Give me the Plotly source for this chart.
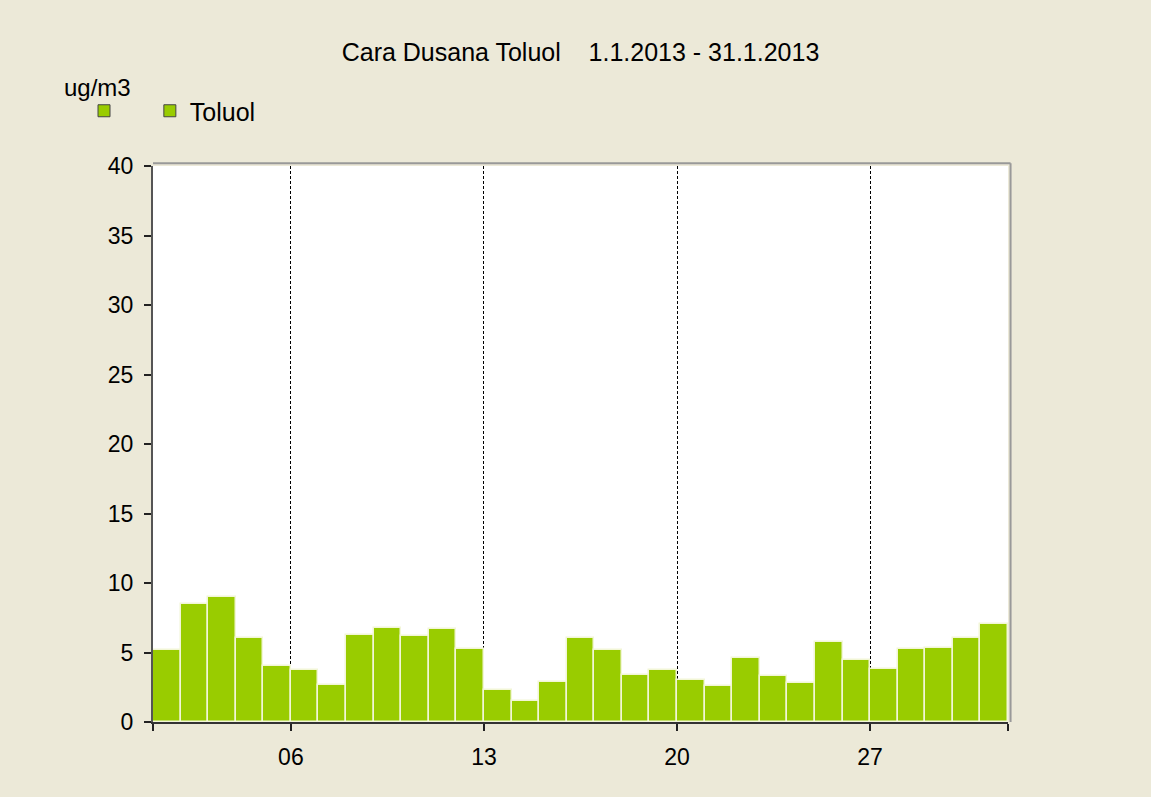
import plotly.graph_objects as go

days = list(range(1, 32))
toluol = [5.15, 8.5, 9.0, 6.04, 4.0, 3.71, 2.68, 6.26, 6.76, 6.16, 6.66, 5.25,
          2.27, 1.48, 2.9, 6.04, 5.15, 3.4, 3.71, 2.99, 2.59, 4.63, 3.31, 2.81,
          5.76, 4.43, 3.81, 5.25, 5.35, 6.04, 7.07]
x_tickvals = [1, 6, 13, 20, 27, 32]
x_ticktext = ["", "06", "13", "20", "27", ""]
y_tickvals = [0, 5, 10, 15, 20, 25, 30, 35, 40]

BG = "#ECE9D8"
GREEN = "#99CC00"
FONT = "Liberation Sans, Arial, sans-serif"

fig = go.Figure()

# legend-only entries (the original legend has an unnamed unit column + Toluol)
fig.add_trace(go.Bar(
    x=[None], y=[None], name="&nbsp;&nbsp;&nbsp;",
    marker=dict(color=GREEN, line=dict(color="#444444", width=1)),
))
fig.add_trace(go.Bar(
    x=[None], y=[None], name="Toluol",
    marker=dict(color=GREEN, line=dict(color="#444444", width=1)),
))
fig.add_trace(go.Bar(
    x=[d + 0.5 for d in days], y=toluol, name="Toluol", width=1, showlegend=False,
    marker=dict(color=GREEN, line=dict(color="#F2F6D6", width=1.5)),
    hovertemplate="%{y:.2f} ug/m3<extra></extra>",
))

fig.update_layout(
    width=1151, height=797,
    paper_bgcolor=BG, plot_bgcolor="white",
    font=dict(family=FONT, size=23, color="black"),
    margin=dict(l=153, r=143, t=166, b=75),
    bargap=0,
    title=dict(
        text="Cara Dusana Toluol&nbsp;&nbsp;&nbsp;&nbsp;1.1.2013 - 31.1.2013",
        x=0.5, xanchor="center", xref="paper", y=1 - 52 / 797, yanchor="middle",
        font=dict(size=25, color="black"),
    ),
    showlegend=True,
    legend=dict(
        orientation="h", x=(84 - 153) / 855, xanchor="left",
        y=1 + (166 - 111) / 556, yanchor="middle",
        bgcolor="rgba(0,0,0,0)", font=dict(size=25), itemwidth=30,
    ),
    hovermode="closest",
)

fig.update_xaxes(
    range=[1, 32], tickmode="array", tickvals=x_tickvals, ticktext=x_ticktext,
    ticks="outside", ticklen=7, tickwidth=1.5, tickcolor="#222222",
    showgrid=True, gridcolor="black", griddash="3px,2px", gridwidth=1,
    showline=True, linecolor="#333333", linewidth=2,
    zeroline=False, tickfont=dict(size=23), ticklabelstandoff=6,
)
fig.update_yaxes(
    range=[0, 40], tickmode="array", tickvals=y_tickvals,
    ticks="outside", ticklen=7, tickwidth=1.5, tickcolor="#222222",
    showgrid=False, showline=True, linecolor="#555555", linewidth=2,
    zeroline=False, tickfont=dict(size=23), ticklabelstandoff=6,
)

# grey inset border on top and right of the plot frame
fig.add_shape(type="line", xref="paper", yref="paper", x0=0, x1=1.003, y0=1.005, y1=1.005,
              line=dict(color="#999999", width=2), layer="above")
fig.add_shape(type="line", xref="paper", yref="paper", x0=1.003, x1=1.003, y0=0, y1=1.005,
              line=dict(color="#999999", width=2), layer="above")

fig.add_annotation(
    text="ug/m3", xref="paper", yref="paper",
    x=(62 - 153) / 855, xanchor="left", y=1 + (166 - 88) / 556, yanchor="middle",
    showarrow=False, font=dict(size=24),
)

fig.write_html("out.html", config={"displayModeBar": False},
               post_script="document.body.style.margin='0';")
